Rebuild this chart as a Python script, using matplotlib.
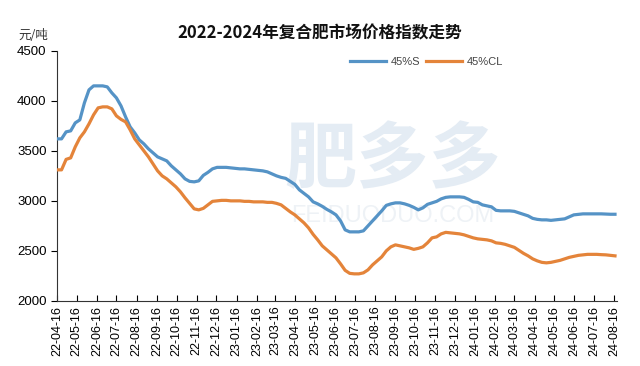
import pandas as pd
import matplotlib.pyplot as plt
import matplotlib.dates as mdates

plt.rcParams['font.family'] = ['Liberation Sans', 'Noto Sans CJK SC', 'DejaVu Sans']

# weekly index values (yuan/ton)
start_date = "2022-04-16"
s45 = [3620, 3620, 3690, 3700, 3780, 3810, 3980, 4110, 4150, 4150,
       4150, 4140, 4080, 4030, 3950, 3840, 3740, 3680, 3610, 3570,
       3520, 3480, 3440, 3420, 3400, 3350, 3310, 3270, 3220, 3195,
       3190, 3200, 3255, 3285, 3320, 3335, 3335, 3335, 3330, 3325,
       3320, 3320, 3315, 3310, 3305, 3300, 3290, 3270, 3250, 3235,
       3225, 3195, 3165, 3110, 3075, 3040, 2990, 2970, 2945, 2915,
       2890, 2860, 2800, 2710, 2690, 2690, 2690, 2700, 2750, 2800,
       2850, 2900, 2955, 2970, 2980, 2980, 2970, 2955, 2935, 2910,
       2930, 2965, 2980, 2995, 3020, 3035, 3040, 3040, 3040, 3035,
       3015, 2990, 2985, 2960, 2950, 2940, 2905, 2900, 2900, 2900,
       2895, 2880, 2865, 2850, 2825, 2815, 2810, 2810, 2805, 2810,
       2815, 2820, 2840, 2860, 2865, 2870, 2870, 2870, 2870, 2870,
       2868, 2866, 2866]
cl45 = [3310, 3310, 3415, 3430, 3540, 3630, 3690, 3770, 3860, 3930,
        3940, 3940, 3920, 3850, 3815, 3790, 3710, 3620, 3560, 3500,
        3440, 3370, 3300, 3250, 3220, 3180, 3140, 3090, 3030, 2975,
        2920, 2910, 2925, 2960, 2995, 3000, 3005, 3005, 3000, 3000,
        3000, 2995, 2995, 2990, 2990, 2990, 2985, 2985, 2975, 2960,
        2925, 2890, 2860, 2820, 2780, 2730, 2665, 2610, 2550, 2510,
        2470, 2430, 2370, 2305, 2275, 2270, 2270, 2280, 2310, 2360,
        2400, 2440, 2500, 2540, 2560, 2550, 2540, 2530, 2515, 2525,
        2540, 2580, 2630, 2640, 2670, 2685, 2680, 2675, 2670, 2660,
        2645, 2630, 2620, 2615, 2610, 2600, 2580, 2575, 2565, 2550,
        2535, 2505, 2475, 2450, 2420, 2400, 2385, 2380, 2385, 2395,
        2405, 2420, 2435, 2445, 2455, 2460, 2465, 2465, 2465, 2462,
        2460, 2455, 2450]
series_names = ["45%S", "45%CL"]
y_ticks = [2000, 2500, 3000, 3500, 4000, 4500]

dates = pd.date_range(start_date, periods=len(s45), freq="7D")

fig = plt.figure(figsize=(6.4, 3.66), dpi=100)
ax = fig.add_axes([0.089, 0.178, 0.875, 0.683])

# faint site watermark
ax.text(0.6, 0.56, "肥多多", transform=ax.transAxes, fontsize=52,
        color="#e4ecf4", ha="center", va="center", zorder=0,
        family=["Noto Sans CJK SC"], fontweight="bold")
ax.text(0.6, 0.34, "FEIDUODUO.COM", transform=ax.transAxes, fontsize=17,
        color="#eef2f6", ha="center", va="center", zorder=0)

ax.plot(dates, s45, color="#5593c6", lw=2.3, label=series_names[0], zorder=3)
ax.plot(dates, cl45, color="#e4843a", lw=2.3, label=series_names[1], zorder=3)

ax.set_ylim(2000, 4500)
ax.set_yticks(y_ticks)
ax.set_xlim(pd.Timestamp("2022-04-16"), pd.Timestamp("2024-08-20"))
ax.xaxis.set_major_locator(mdates.MonthLocator(bymonthday=16))
ax.xaxis.set_major_formatter(mdates.DateFormatter("%y-%m-%d"))
ax.tick_params(axis="x", direction="in", rotation=90, labelsize=9, length=4)
ax.tick_params(axis="y", direction="out", labelsize=9.5, length=4)

for side in ["top", "right"]:
    ax.spines[side].set_visible(False)
ax.spines["left"].set_color("#333333")
ax.spines["bottom"].set_color("#333333")

leg = ax.legend(loc="center", bbox_to_anchor=(0.66, 0.955), ncol=2, frameon=False,
                fontsize=8, handlelength=3.2, columnspacing=0.6, handletextpad=0.4)
for t in leg.get_texts():
    t.set_color("#444444")

fig.text(0.5, 0.885, "2022-2024年复合肥市场价格指数走势", ha="center", va="bottom",
         fontsize=12, fontweight="bold", family=["Noto Sans CJK SC"], color="#111111")
fig.text(0.028, 0.885, "元/吨", ha="left", va="bottom", fontsize=9,
         family=["Noto Sans CJK SC"], color="#333333")

fig.savefig("out.png", dpi=100)
